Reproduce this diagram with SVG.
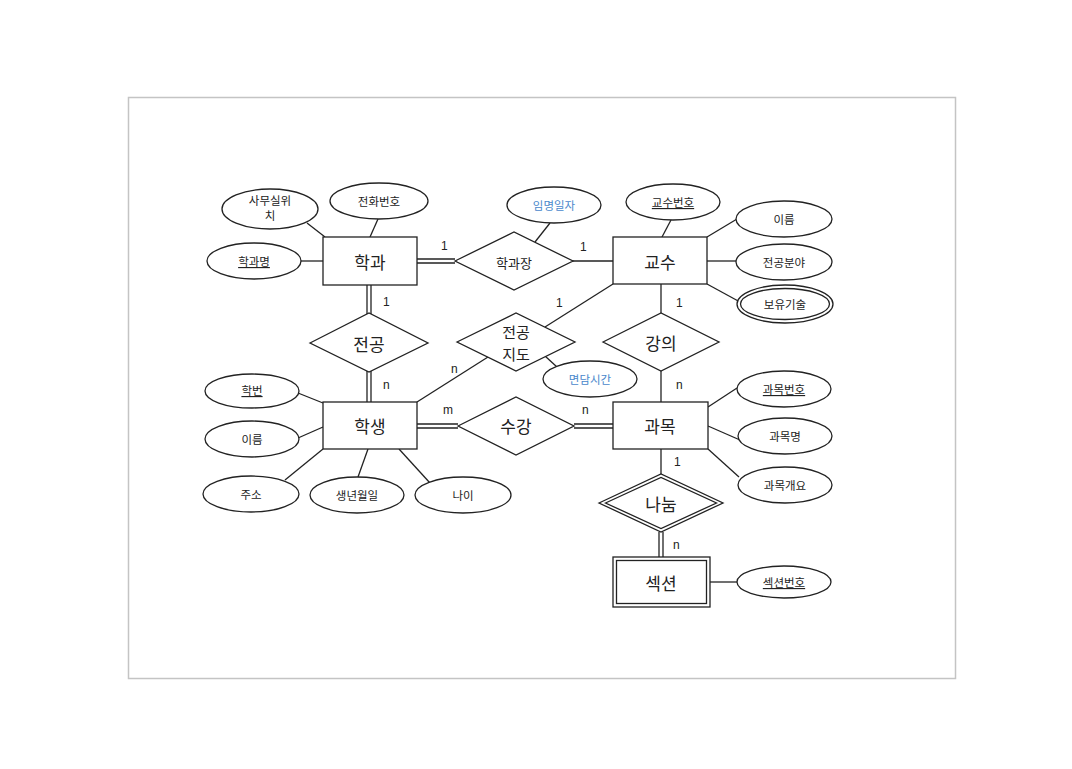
<svg xmlns="http://www.w3.org/2000/svg" width="1072" height="769" viewBox="0 0 1072 769">
<style>
.frame{fill:#fff;stroke:#c4c4c4;stroke-width:1.5}
.ent{fill:#fff;stroke:#222;stroke-width:1.3}
.rel{fill:#fff;stroke:#222;stroke-width:1.3}
.att{fill:#fff;stroke:#222;stroke-width:1.3}
.ln{stroke:#222;stroke-width:1.3;fill:none}
.t{font-family:"Noto Sans CJK KR","Noto Sans",sans-serif;fill:#222;text-anchor:middle;dominant-baseline:central}
.t2{font-family:"Noto Sans CJK KR","Noto Sans",sans-serif;fill:#222;text-anchor:middle}
.big{font-size:17px}
.sm{font-size:11.5px}
.blue{fill:#4a88cc}
.card{font-family:"Liberation Sans",Arial,sans-serif;font-size:12px;fill:#222}
.u{text-decoration:underline}
</style>
<rect width="1072" height="769" fill="#fff"/>
<rect class="frame" x="128.5" y="97.5" width="827" height="581"/>

<g id="connectors">
  <line class="ln" x1="307" y1="223" x2="325" y2="237"/>
  <line class="ln" x1="378" y1="219" x2="370" y2="237"/>
  <line class="ln" x1="301" y1="261" x2="323" y2="261"/>
  <line class="ln" x1="417" y1="259" x2="455" y2="259"/>
  <line class="ln" x1="417" y1="263" x2="455" y2="263"/>
  <line class="ln" x1="572" y1="261" x2="613" y2="261"/>
  <line class="ln" x1="535" y1="242" x2="550" y2="223"/>
  <line class="ln" x1="662" y1="237" x2="671" y2="220"/>
  <line class="ln" x1="707" y1="237" x2="737" y2="219"/>
  <line class="ln" x1="707" y1="261" x2="736" y2="261"/>
  <line class="ln" x1="707" y1="284" x2="740" y2="302"/>
  <line class="ln" x1="613" y1="284" x2="545" y2="327"/>
  <line class="ln" x1="661" y1="284" x2="661" y2="313"/>
  <line class="ln" x1="661" y1="371" x2="661" y2="402"/>
  <line class="ln" x1="367" y1="285" x2="367" y2="314"/>
  <line class="ln" x1="371" y1="285" x2="371" y2="314"/>
  <line class="ln" x1="367" y1="371" x2="367" y2="402"/>
  <line class="ln" x1="371" y1="371" x2="371" y2="402"/>
  <line class="ln" x1="417" y1="402" x2="488" y2="357"/>
  <line class="ln" x1="545" y1="356" x2="557" y2="367"/>
  <line class="ln" x1="417" y1="424" x2="458" y2="424"/>
  <line class="ln" x1="417" y1="428" x2="458" y2="428"/>
  <line class="ln" x1="574" y1="424" x2="613" y2="424"/>
  <line class="ln" x1="574" y1="428" x2="613" y2="428"/>
  <line class="ln" x1="298" y1="393" x2="323" y2="403"/>
  <line class="ln" x1="298" y1="438" x2="323" y2="427"/>
  <line class="ln" x1="285" y1="480" x2="323" y2="449"/>
  <line class="ln" x1="358" y1="477" x2="368" y2="449"/>
  <line class="ln" x1="399" y1="449" x2="430" y2="483"/>
  <line class="ln" x1="708" y1="407" x2="737" y2="388"/>
  <line class="ln" x1="708" y1="426" x2="740" y2="440"/>
  <line class="ln" x1="708" y1="449" x2="739" y2="477"/>
  <line class="ln" x1="661" y1="449" x2="661" y2="474"/>
  <line class="ln" x1="659" y1="532" x2="659" y2="557"/>
  <line class="ln" x1="663" y1="532" x2="663" y2="557"/>
  <line class="ln" x1="710" y1="582" x2="737" y2="582"/>
</g>

<g id="cards">
  <text class="card" x="441" y="250">1</text>
  <text class="card" x="580" y="251">1</text>
  <text class="card" x="383" y="306">1</text>
  <text class="card" x="383" y="389">n</text>
  <text class="card" x="556" y="307">1</text>
  <text class="card" x="676" y="307">1</text>
  <text class="card" x="451" y="373">n</text>
  <text class="card" x="676" y="389">n</text>
  <text class="card" x="443" y="414">m</text>
  <text class="card" x="582" y="414">n</text>
  <text class="card" x="674" y="466">1</text>
  <text class="card" x="673" y="549">n</text>
</g>

<g id="학과"><rect class="ent" x="323" y="237" width="94" height="48"/><text class="t big" x="370" y="261">학과</text></g>
<g id="교수"><rect class="ent" x="613" y="237" width="94" height="47"/><text class="t big" x="660" y="261">교수</text></g>
<g id="학생"><rect class="ent" x="323" y="402" width="94" height="47"/><text class="t big" x="370" y="425">학생</text></g>
<g id="과목"><rect class="ent" x="613" y="402" width="95" height="47"/><text class="t big" x="660" y="425">과목</text></g>
<g id="섹션"><rect class="ent" x="613" y="557" width="97" height="50" stroke="#444"/><rect class="ent" x="616.5" y="560.5" width="90" height="43" stroke="#444"/><text class="t big" x="661" y="582">섹션</text></g>

<g id="학과장"><polygon class="rel" points="455,261 514,232 573,261 514,290"/><text class="t" x="514" y="262" style="font-size:13px">학과장</text></g>
<g id="전공"><polygon class="rel" points="310,343 369,313 428,343 369,372"/><text class="t big" x="369" y="343">전공</text></g>
<g id="전공지도"><polygon class="rel" points="457,342 516,313 575,342 516,371"/><text class="t" x="516" y="331" style="font-size:15px">전공</text><text class="t" x="516" y="353" style="font-size:15px">지도</text></g>
<g id="강의"><polygon class="rel" points="603,342 661,313 719,342 661,371"/><text class="t big" x="661" y="342">강의</text></g>
<g id="수강"><polygon class="rel" points="458,426 516,397 574,426 516,455"/><text class="t big" x="516" y="425">수강</text></g>
<g id="나눔"><polygon class="rel" points="599,503 661,474 723,503 661,532"/><polygon class="rel" points="605.5,503 661,477.5 716.5,503 661,528.5"/><text class="t big" x="661" y="503">나눔</text></g>

<g id="사무실위치"><ellipse class="att" cx="270" cy="209" rx="48" ry="20"/><text class="t2 sm" x="270" y="205"><tspan x="270">사무실위</tspan><tspan x="270" dy="15">치</tspan></text></g>
<g id="전화번호"><ellipse class="att" cx="379" cy="201" rx="49" ry="18"/><text class="t sm" x="379" y="201">전화번호</text></g>
<g id="학과명"><ellipse class="att" cx="254" cy="261" rx="47" ry="18"/><text class="t sm u" x="254" y="261">학과명</text></g>
<g id="임명일자"><ellipse class="att" cx="554" cy="205" rx="47" ry="18"/><text class="t sm blue" x="554" y="205">임명일자</text></g>
<g id="교수번호"><ellipse class="att" cx="673" cy="202" rx="47" ry="18"/><text class="t sm u" x="673" y="202">교수번호</text></g>
<g id="교수이름"><ellipse class="att" cx="784" cy="219" rx="48" ry="18"/><text class="t sm" x="784" y="219">이름</text></g>
<g id="전공분야"><ellipse class="att" cx="784" cy="262" rx="48" ry="18"/><text class="t sm" x="784" y="262">전공분야</text></g>
<g id="보유기술"><ellipse class="att" cx="785" cy="304" rx="48" ry="19"/><ellipse class="att" cx="785" cy="304" rx="44.5" ry="15.5"/><text class="t sm" x="785" y="304">보유기술</text></g>
<g id="면담시간"><ellipse class="att" cx="590" cy="379" rx="47" ry="18"/><text class="t sm blue" x="590" y="379">면담시간</text></g>
<g id="학번"><ellipse class="att" cx="252" cy="391" rx="47" ry="17"/><text class="t sm u" x="252" y="390">학번</text></g>
<g id="학생이름"><ellipse class="att" cx="252" cy="439" rx="47" ry="18"/><text class="t sm" x="252" y="439">이름</text></g>
<g id="주소"><ellipse class="att" cx="251" cy="494" rx="48" ry="18"/><text class="t sm" x="251" y="494">주소</text></g>
<g id="생년월일"><ellipse class="att" cx="357" cy="495" rx="47" ry="18"/><text class="t sm" x="357" y="495">생년월일</text></g>
<g id="나이"><ellipse class="att" cx="463" cy="495" rx="48" ry="18"/><text class="t sm" x="463" y="495">나이</text></g>
<g id="과목번호"><ellipse class="att" cx="784" cy="389" rx="47" ry="18"/><text class="t sm u" x="784" y="389">과목번호</text></g>
<g id="과목명"><ellipse class="att" cx="785" cy="436" rx="47" ry="18"/><text class="t sm" x="785" y="436">과목명</text></g>
<g id="과목개요"><ellipse class="att" cx="785" cy="485" rx="47" ry="18"/><text class="t sm" x="785" y="485">과목개요</text></g>
<g id="섹션번호"><ellipse class="att" cx="784" cy="582" rx="47" ry="16"/><text class="t sm u" x="784" y="582">섹션번호</text></g>
</svg>
